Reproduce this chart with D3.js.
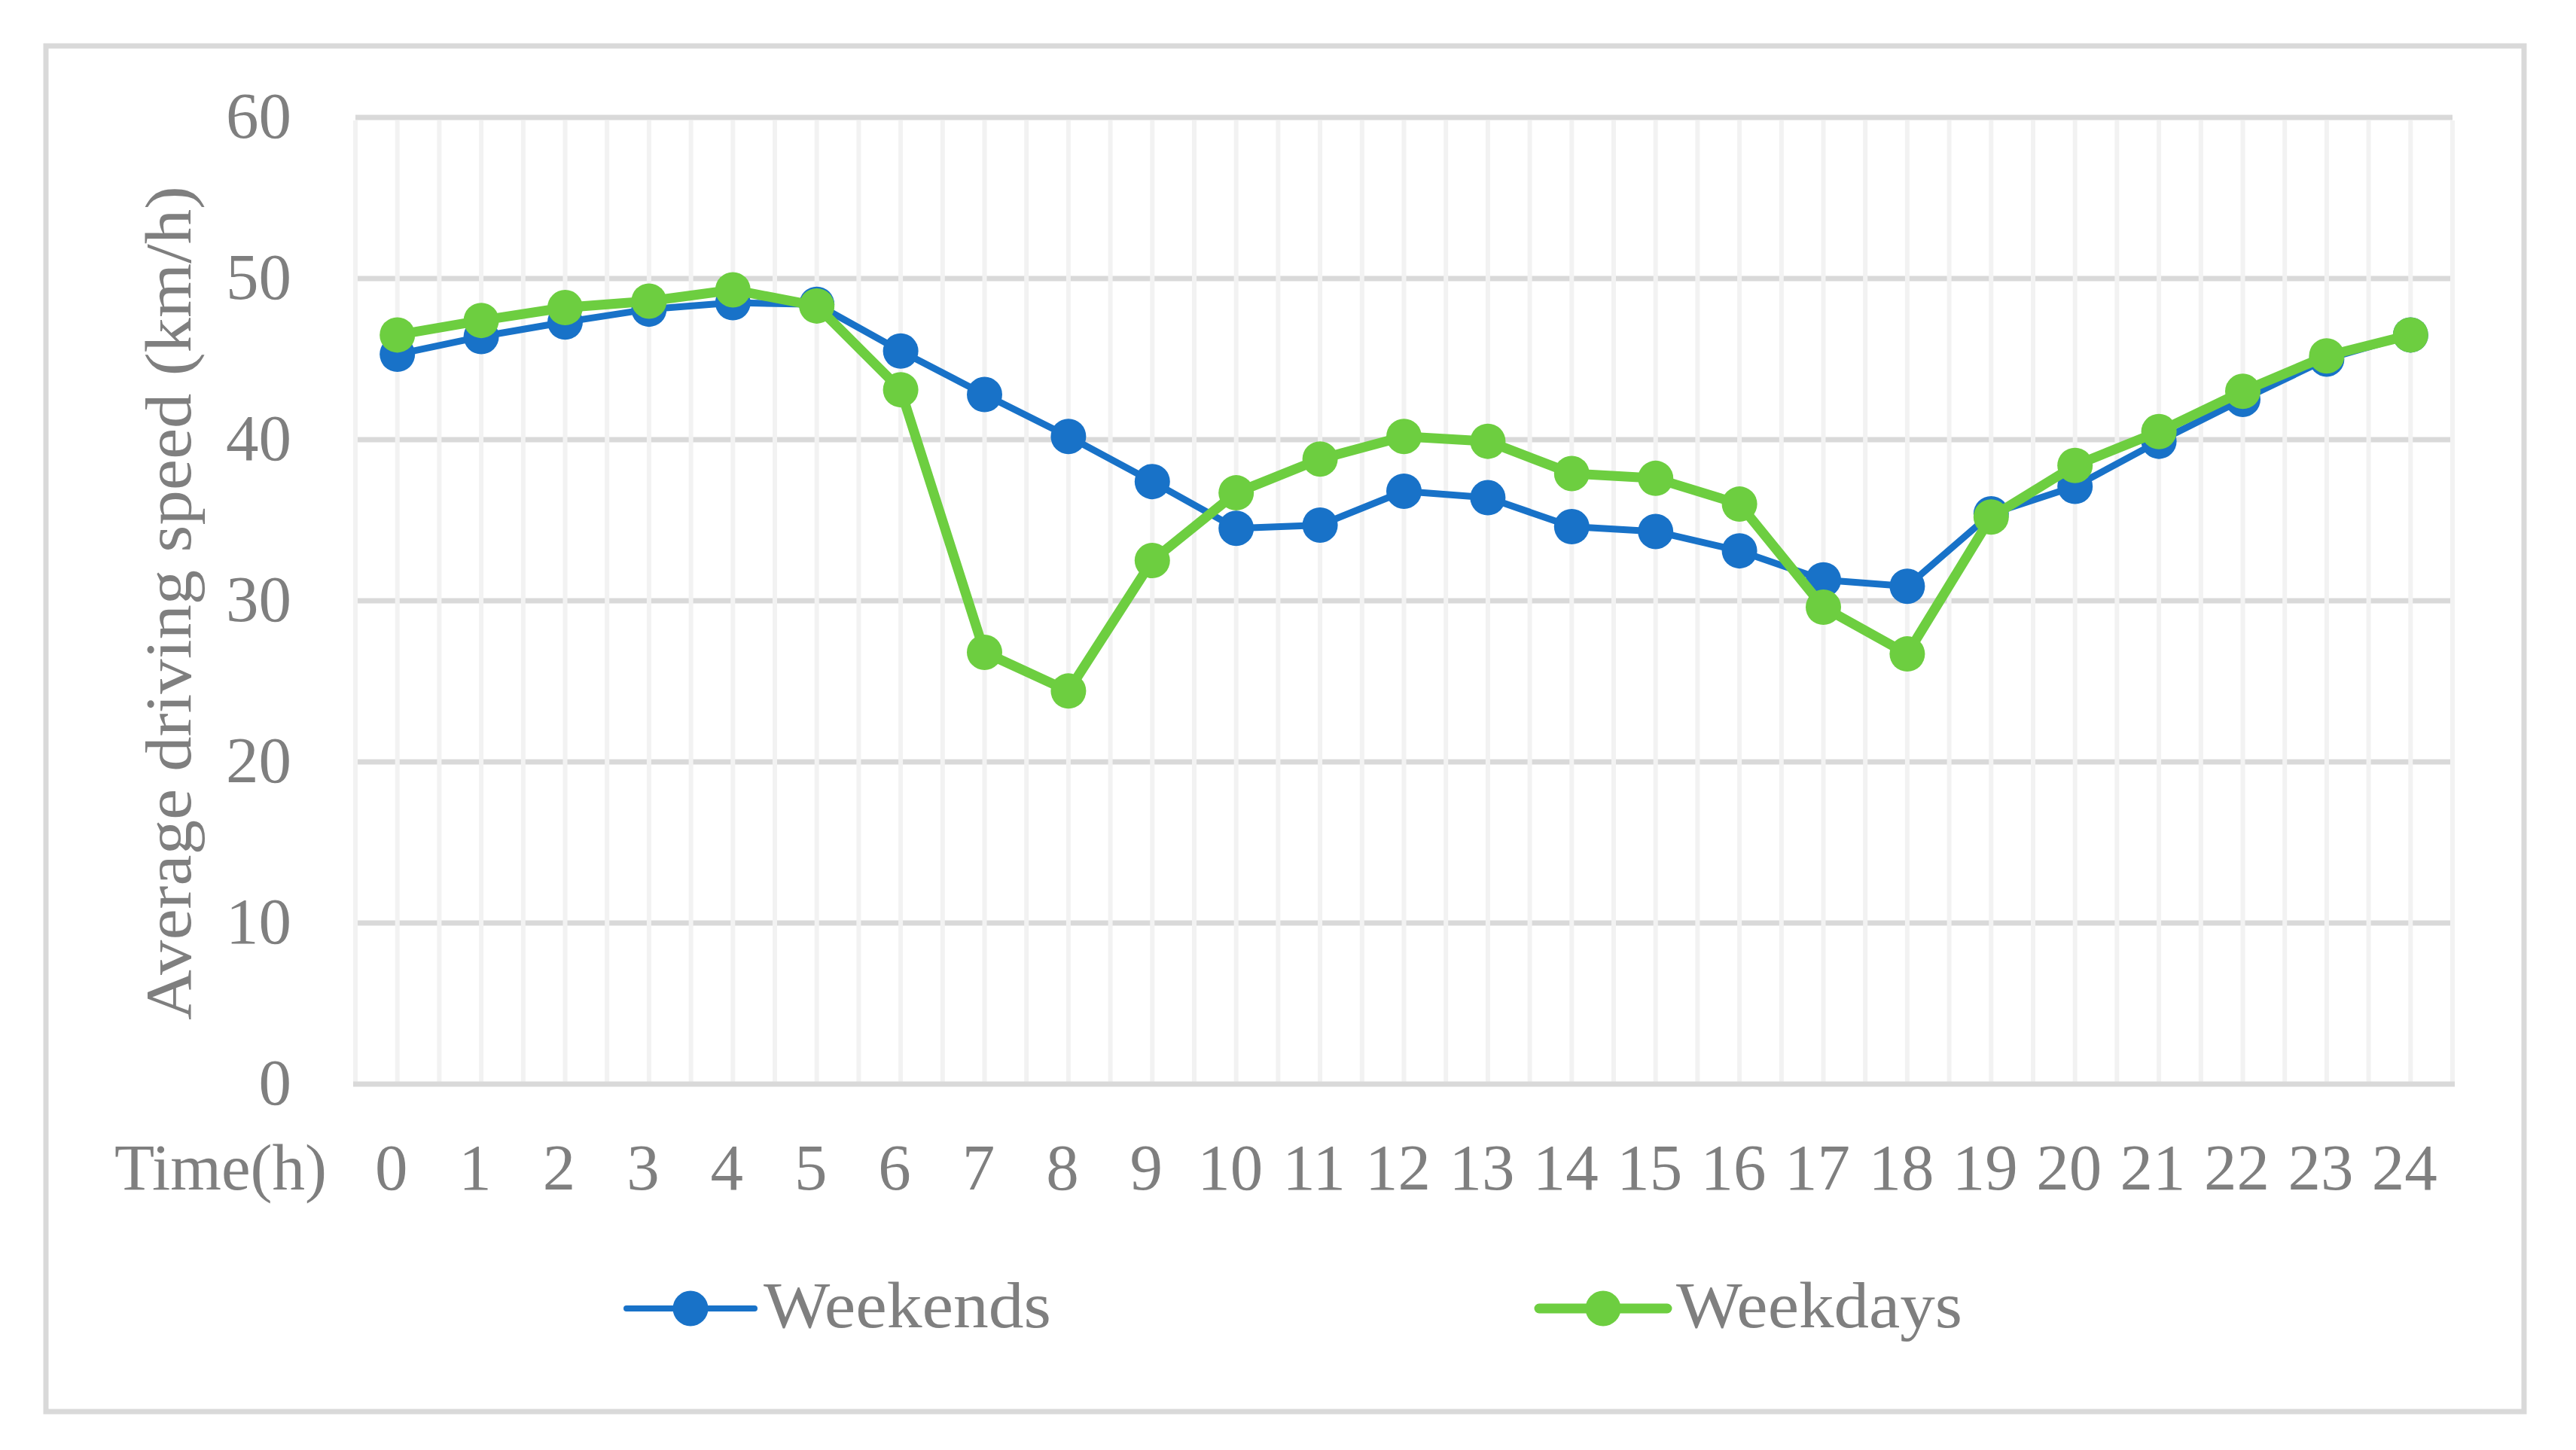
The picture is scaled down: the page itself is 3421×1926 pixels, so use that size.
<!DOCTYPE html>
<html>
<head>
<meta charset="utf-8">
<script src="https://cdn.jsdelivr.net/npm/d3@7"></script>
<style>
  html, body { margin: 0; padding: 0; background: #ffffff; }
  svg { display: block; }
</style>
</head>
<body>
<div id="chart"></div>
<script>
// ---- Data ----
const hours = [0,1,2,3,4,5,6,7,8,9,10,11,12,13,14,15,16,17,18,19,20,21,22,23,24];
const weekends = [45.3, 46.4, 47.3, 48.1, 48.5, 48.4, 45.5, 42.8, 40.2, 37.4, 34.5, 34.7, 36.8, 36.4, 34.6, 34.3, 33.1, 31.3, 30.9, 35.4, 37.1, 39.9, 42.5, 45.0, 46.5];
const weekdays = [46.5, 47.4, 48.2, 48.6, 49.3, 48.3, 43.1, 26.8, 24.4, 32.5, 36.7, 38.8, 40.2, 39.9, 37.9, 37.6, 36.0, 29.6, 26.7, 35.2, 38.4, 40.5, 43.0, 45.2, 46.5];
const yTicks = [0, 10, 20, 30, 40, 50, 60];
const seriesNames = ["Weekends", "Weekdays"];
const yTitle = "Average driving speed (km/h)";
const xTitle = "Time(h)";

// ---- Layout ----
const W = 3421, H = 1926;
const plot = { left: 472, right: 3257, top: 156, bottom: 1440 };
const FONT = "'Palatino Linotype','Book Antiqua',Palatino,'Liberation Serif',serif";
const TEXT = "#7f7f7f";
const colors = ["#1872c8", "#6dce40"];
const widths = [9, 13];
const R = 23.5;

const svg = d3.select("#chart").append("svg")
  .attr("width", W).attr("height", H)
  .style("background", "#ffffff");

// outer border
svg.append("rect")
  .attr("x", 61).attr("y", 61)
  .attr("width", 3352 - 61).attr("height", 1875 - 61)
  .attr("fill", "none").attr("stroke", "#d9d9d9").attr("stroke-width", 7);

const x = d3.scaleBand().domain(hours).range([plot.left, plot.right]).padding(0);
const y = d3.scaleLinear().domain([0, 60]).range([plot.bottom, plot.top]);
const bw = x.bandwidth();

// horizontal gridlines (except 0)
svg.append("g").selectAll("line").data(yTicks.filter(d => d > 0)).join("line")
  .attr("x1", plot.left).attr("x2", plot.right)
  .attr("y1", d => y(d)).attr("y2", d => y(d))
  .attr("stroke", "#d9d9d9").attr("stroke-width", 7);

// vertical gridlines: boundaries and centers
const vPos = [];
hours.forEach(h => { vPos.push(x(h)); vPos.push(x(h) + bw / 2); });
vPos.push(x(hours[hours.length - 1]) + bw);
svg.append("g").selectAll("line").data(vPos).join("line")
  .attr("x1", d => d).attr("x2", d => d)
  .attr("y1", y(60) + 4).attr("y2", y(0))
  .attr("stroke", "#f2f2f2").attr("stroke-width", 6);

// x axis line
svg.append("line")
  .attr("x1", plot.left - 3).attr("x2", plot.right + 3)
  .attr("y1", y(0)).attr("y2", y(0))
  .attr("stroke", "#d9d9d9").attr("stroke-width", 7);

// y axis labels
const yAxis = svg.append("g")
  .attr("transform", `translate(${plot.left},0)`)
  .call(d3.axisLeft(y).tickValues(yTicks).tickSize(0).tickPadding(85).tickFormat(d3.format("d")));
yAxis.select(".domain").remove();
yAxis.selectAll("text")
  .attr("font-family", FONT).attr("font-size", 87).attr("fill", TEXT).attr("dy", "0.30em");

// x axis labels
const xAxis = svg.append("g")
  .attr("transform", `translate(-8,${plot.bottom})`)
  .call(d3.axisBottom(x).tickSize(0).tickPadding(78));
xAxis.select(".domain").remove();
xAxis.selectAll("text")
  .attr("font-family", FONT).attr("font-size", 87).attr("fill", TEXT);

// x title (left of labels)
svg.append("text")
  .attr("x", 152).attr("y", 1580)
  .attr("font-family", FONT).attr("font-size", 87).attr("fill", TEXT)
  .text(xTitle);

// y title
svg.append("text")
  .attr("transform", `translate(253,${(1355 + 247) / 2}) rotate(-90)`)
  .attr("text-anchor", "middle")
  .attr("font-family", FONT).attr("font-size", 87).attr("fill", TEXT)
  .attr("textLength", 1108).attr("lengthAdjust", "spacingAndGlyphs")
  .text(yTitle);

// series
const series = [weekends, weekdays];
const line = d3.line().x((d, i) => x(hours[i]) + bw / 2).y(d => y(d));
series.forEach((vals, s) => {
  const g = svg.append("g");
  g.append("path").datum(vals)
    .attr("d", line)
    .attr("fill", "none").attr("stroke", colors[s]).attr("stroke-width", widths[s])
    .attr("stroke-linejoin", "round");
  g.selectAll("circle").data(vals).join("circle")
    .attr("cx", (d, i) => x(hours[i]) + bw / 2)
    .attr("cy", d => y(d))
    .attr("r", R).attr("fill", colors[s]);
});

// legend
const legendX = [832, 2044];
const legendTextW = [382, 380];
const legendY = 1738;
seriesNames.forEach((name, s) => {
  const g = svg.append("g");
  g.append("line")
    .attr("x1", legendX[s]).attr("x2", legendX[s] + 170)
    .attr("y1", legendY).attr("y2", legendY)
    .attr("stroke", colors[s]).attr("stroke-width", s === 0 ? 8 : 13)
    .attr("stroke-linecap", "round");
  g.append("circle")
    .attr("cx", legendX[s] + 85).attr("cy", legendY).attr("r", R)
    .attr("fill", colors[s]);
  g.append("text")
    .attr("x", legendX[s] + 182).attr("y", 1763)
    .attr("font-family", FONT).attr("font-size", 87).attr("fill", TEXT)
    .attr("textLength", legendTextW[s]).attr("lengthAdjust", "spacingAndGlyphs")
    .text(name);
});
</script>
</body>
</html>
